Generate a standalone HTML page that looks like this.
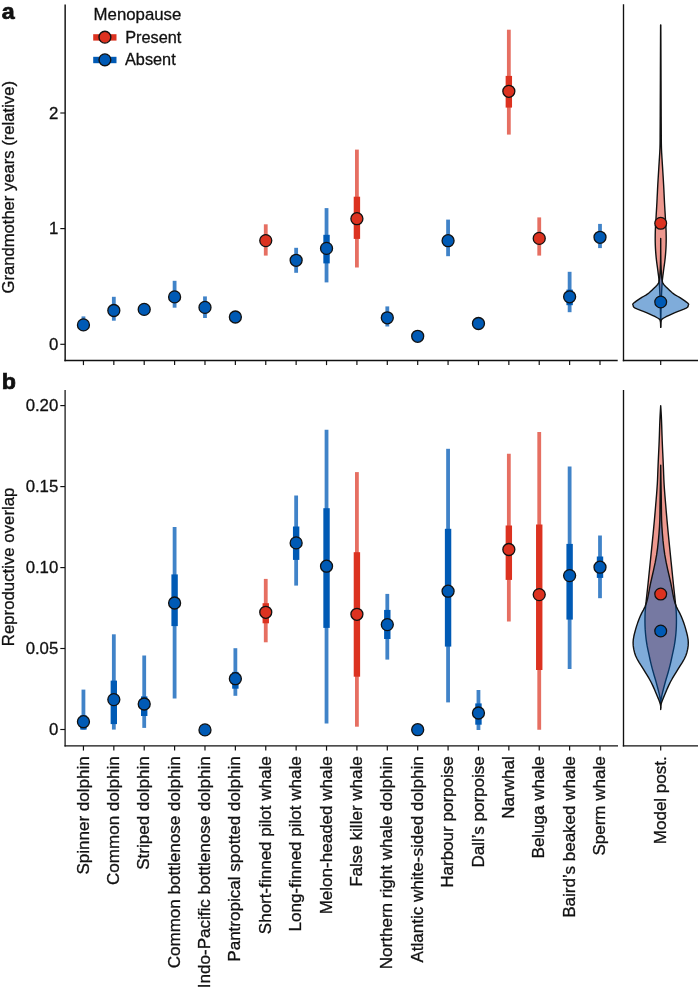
<!DOCTYPE html>
<html><head><meta charset="utf-8"><style>
html,body{margin:0;padding:0;background:#fff;}
svg{display:block;will-change:transform;}
text{font-family:"Liberation Sans",sans-serif;fill:#111;stroke:#111;stroke-width:0.3px;}
</style></head><body>
<svg width="698" height="989" viewBox="0 0 698 989">
<rect width="698" height="989" fill="#fff"/>
<line x1="65.15" x2="65.15" y1="4.4" y2="361.2" stroke="#111" stroke-width="1.45"/>
<line x1="64.4" x2="617.7" y1="360.5" y2="360.5" stroke="#111" stroke-width="1.55"/>
<line x1="623.5" x2="623.5" y1="4.2" y2="361.2" stroke="#111" stroke-width="1.35"/>
<line x1="622.8" x2="698" y1="360.5" y2="360.5" stroke="#111" stroke-width="1.55"/>
<line x1="65.1" x2="65.1" y1="390" y2="746.5" stroke="#111" stroke-width="1.25"/>
<line x1="64.5" x2="618" y1="745.9" y2="745.9" stroke="#111" stroke-width="1.3"/>
<line x1="623.5" x2="623.5" y1="390" y2="746.5" stroke="#111" stroke-width="1.35"/>
<line x1="622.8" x2="698" y1="745.9" y2="745.9" stroke="#111" stroke-width="1.3"/>
<line x1="60.3" x2="65" y1="344.3" y2="344.3" stroke="#111" stroke-width="1.15"/>
<text transform="translate(58.3,349.90000000000003) scale(1.0,1.0)" text-anchor="end" font-size="16.8" font-weight="normal">0</text>
<line x1="60.3" x2="65" y1="228.6" y2="228.6" stroke="#111" stroke-width="1.15"/>
<text transform="translate(58.3,234.2) scale(1.0,1.0)" text-anchor="end" font-size="16.8" font-weight="normal">1</text>
<line x1="60.3" x2="65" y1="113.0" y2="113.0" stroke="#111" stroke-width="1.15"/>
<text transform="translate(58.3,118.6) scale(1.0,1.0)" text-anchor="end" font-size="16.8" font-weight="normal">2</text>
<line x1="60.3" x2="65" y1="729.5" y2="729.5" stroke="#111" stroke-width="1.15"/>
<text transform="translate(58.3,735.1) scale(1.0,1.0)" text-anchor="end" font-size="16.8" font-weight="normal">0</text>
<line x1="60.3" x2="65" y1="648.5" y2="648.5" stroke="#111" stroke-width="1.15"/>
<text transform="translate(58.3,654.1) scale(1.0,1.0)" text-anchor="end" font-size="16.8" font-weight="normal">0.05</text>
<line x1="60.3" x2="65" y1="567.6" y2="567.6" stroke="#111" stroke-width="1.15"/>
<text transform="translate(58.3,573.2) scale(1.0,1.0)" text-anchor="end" font-size="16.8" font-weight="normal">0.10</text>
<line x1="60.3" x2="65" y1="486.6" y2="486.6" stroke="#111" stroke-width="1.15"/>
<text transform="translate(58.3,492.20000000000005) scale(1.0,1.0)" text-anchor="end" font-size="16.8" font-weight="normal">0.15</text>
<line x1="60.3" x2="65" y1="405.6" y2="405.6" stroke="#111" stroke-width="1.15"/>
<text transform="translate(58.3,411.20000000000005) scale(1.0,1.0)" text-anchor="end" font-size="16.8" font-weight="normal">0.20</text>
<line x1="83.44" x2="83.44" y1="360.5" y2="365.1" stroke="#111" stroke-width="1.2"/>
<line x1="83.44" x2="83.44" y1="745.9" y2="750.6" stroke="#111" stroke-width="1.2"/>
<text transform="translate(88.53999999999999,756.2) rotate(-90) scale(1.015,1)" text-anchor="end" font-size="16.8">Spinner dolphin</text>
<line x1="113.83" x2="113.83" y1="360.5" y2="365.1" stroke="#111" stroke-width="1.2"/>
<line x1="113.83" x2="113.83" y1="745.9" y2="750.6" stroke="#111" stroke-width="1.2"/>
<text transform="translate(118.92599999999999,756.2) rotate(-90) scale(1.015,1)" text-anchor="end" font-size="16.8">Common dolphin</text>
<line x1="144.21" x2="144.21" y1="360.5" y2="365.1" stroke="#111" stroke-width="1.2"/>
<line x1="144.21" x2="144.21" y1="745.9" y2="750.6" stroke="#111" stroke-width="1.2"/>
<text transform="translate(149.31199999999998,756.2) rotate(-90) scale(1.015,1)" text-anchor="end" font-size="16.8">Striped dolphin</text>
<line x1="174.60" x2="174.60" y1="360.5" y2="365.1" stroke="#111" stroke-width="1.2"/>
<line x1="174.60" x2="174.60" y1="745.9" y2="750.6" stroke="#111" stroke-width="1.2"/>
<text transform="translate(179.698,756.2) rotate(-90) scale(1.015,1)" text-anchor="end" font-size="16.8">Common bottlenose dolphin</text>
<line x1="204.98" x2="204.98" y1="360.5" y2="365.1" stroke="#111" stroke-width="1.2"/>
<line x1="204.98" x2="204.98" y1="745.9" y2="750.6" stroke="#111" stroke-width="1.2"/>
<text transform="translate(210.08399999999997,756.2) rotate(-90) scale(1.015,1)" text-anchor="end" font-size="16.8">Indo-Pacific bottlenose dolphin</text>
<line x1="235.37" x2="235.37" y1="360.5" y2="365.1" stroke="#111" stroke-width="1.2"/>
<line x1="235.37" x2="235.37" y1="745.9" y2="750.6" stroke="#111" stroke-width="1.2"/>
<text transform="translate(240.47,756.2) rotate(-90) scale(1.015,1)" text-anchor="end" font-size="16.8">Pantropical spotted dolphin</text>
<line x1="265.76" x2="265.76" y1="360.5" y2="365.1" stroke="#111" stroke-width="1.2"/>
<line x1="265.76" x2="265.76" y1="745.9" y2="750.6" stroke="#111" stroke-width="1.2"/>
<text transform="translate(270.856,756.2) rotate(-90) scale(1.015,1)" text-anchor="end" font-size="16.8">Short-finned pilot whale</text>
<line x1="296.14" x2="296.14" y1="360.5" y2="365.1" stroke="#111" stroke-width="1.2"/>
<line x1="296.14" x2="296.14" y1="745.9" y2="750.6" stroke="#111" stroke-width="1.2"/>
<text transform="translate(301.242,756.2) rotate(-90) scale(1.015,1)" text-anchor="end" font-size="16.8">Long-finned pilot whale</text>
<line x1="326.53" x2="326.53" y1="360.5" y2="365.1" stroke="#111" stroke-width="1.2"/>
<line x1="326.53" x2="326.53" y1="745.9" y2="750.6" stroke="#111" stroke-width="1.2"/>
<text transform="translate(331.62800000000004,756.2) rotate(-90) scale(1.015,1)" text-anchor="end" font-size="16.8">Melon-headed whale</text>
<line x1="356.91" x2="356.91" y1="360.5" y2="365.1" stroke="#111" stroke-width="1.2"/>
<line x1="356.91" x2="356.91" y1="745.9" y2="750.6" stroke="#111" stroke-width="1.2"/>
<text transform="translate(362.014,756.2) rotate(-90) scale(1.015,1)" text-anchor="end" font-size="16.8">False killer whale</text>
<line x1="387.30" x2="387.30" y1="360.5" y2="365.1" stroke="#111" stroke-width="1.2"/>
<line x1="387.30" x2="387.30" y1="745.9" y2="750.6" stroke="#111" stroke-width="1.2"/>
<text transform="translate(392.40000000000003,756.2) rotate(-90) scale(1.015,1)" text-anchor="end" font-size="16.8">Northern right whale dolphin</text>
<line x1="417.69" x2="417.69" y1="360.5" y2="365.1" stroke="#111" stroke-width="1.2"/>
<line x1="417.69" x2="417.69" y1="745.9" y2="750.6" stroke="#111" stroke-width="1.2"/>
<text transform="translate(422.786,756.2) rotate(-90) scale(1.015,1)" text-anchor="end" font-size="16.8">Atlantic white-sided dolphin</text>
<line x1="448.07" x2="448.07" y1="360.5" y2="365.1" stroke="#111" stroke-width="1.2"/>
<line x1="448.07" x2="448.07" y1="745.9" y2="750.6" stroke="#111" stroke-width="1.2"/>
<text transform="translate(453.172,756.2) rotate(-90) scale(1.015,1)" text-anchor="end" font-size="16.8">Harbour porpoise</text>
<line x1="478.46" x2="478.46" y1="360.5" y2="365.1" stroke="#111" stroke-width="1.2"/>
<line x1="478.46" x2="478.46" y1="745.9" y2="750.6" stroke="#111" stroke-width="1.2"/>
<text transform="translate(483.558,756.2) rotate(-90) scale(1.015,1)" text-anchor="end" font-size="16.8">Dall’s porpoise</text>
<line x1="508.84" x2="508.84" y1="360.5" y2="365.1" stroke="#111" stroke-width="1.2"/>
<line x1="508.84" x2="508.84" y1="745.9" y2="750.6" stroke="#111" stroke-width="1.2"/>
<text transform="translate(513.944,756.2) rotate(-90) scale(1.015,1)" text-anchor="end" font-size="16.8">Narwhal</text>
<line x1="539.23" x2="539.23" y1="360.5" y2="365.1" stroke="#111" stroke-width="1.2"/>
<line x1="539.23" x2="539.23" y1="745.9" y2="750.6" stroke="#111" stroke-width="1.2"/>
<text transform="translate(544.33,756.2) rotate(-90) scale(1.015,1)" text-anchor="end" font-size="16.8">Beluga whale</text>
<line x1="569.62" x2="569.62" y1="360.5" y2="365.1" stroke="#111" stroke-width="1.2"/>
<line x1="569.62" x2="569.62" y1="745.9" y2="750.6" stroke="#111" stroke-width="1.2"/>
<text transform="translate(574.716,756.2) rotate(-90) scale(1.015,1)" text-anchor="end" font-size="16.8">Baird’s beaked whale</text>
<line x1="600.00" x2="600.00" y1="360.5" y2="365.1" stroke="#111" stroke-width="1.2"/>
<line x1="600.00" x2="600.00" y1="745.9" y2="750.6" stroke="#111" stroke-width="1.2"/>
<text transform="translate(605.102,756.2) rotate(-90) scale(1.015,1)" text-anchor="end" font-size="16.8">Sperm whale</text>
<line x1="660.7" x2="660.7" y1="360.5" y2="365.1" stroke="#111" stroke-width="1.2"/>
<line x1="660.7" x2="660.7" y1="745.9" y2="750.6" stroke="#111" stroke-width="1.2"/>
<text transform="translate(665.6,756.2) rotate(-90) scale(1.015,1)" text-anchor="end" font-size="16.8">Model post.</text>
<text transform="translate(13.6,187.3) rotate(-90) scale(0.99,1)" text-anchor="middle" font-size="16.8">Grandmother years (relative)</text>
<text transform="translate(13.6,566.9) rotate(-90) scale(1.0,1)" text-anchor="middle" font-size="16.8">Reproductive overlap</text>
<text style="stroke-width:0.7px" transform="translate(1.8,18.9) scale(1.08,1.0)" text-anchor="start" font-size="21.5" font-weight="bold">a</text>
<text style="stroke-width:0.7px" transform="translate(1.8,388.9) scale(1.08,1.0)" text-anchor="start" font-size="21.5" font-weight="bold">b</text>
<text transform="translate(93.6,19.6) scale(1.0,0.96)" text-anchor="start" font-size="16.8" font-weight="normal">Menopause</text>
<line x1="93.2" x2="116.5" y1="37.4" y2="37.4" stroke="#DC3220" stroke-width="6.4"/>
<circle cx="104.9" cy="37.2" r="5.9" fill="#DC3220" stroke="#111" stroke-width="1.4"/>
<text transform="translate(125.2,43.2) scale(1.0,0.98)" text-anchor="start" font-size="16.3" font-weight="normal">Present</text>
<line x1="93.2" x2="116.5" y1="60.0" y2="60.0" stroke="#005AB5" stroke-width="6.4"/>
<circle cx="104.9" cy="59.8" r="5.9" fill="#005AB5" stroke="#111" stroke-width="1.4"/>
<text transform="translate(125.0,65.4) scale(1.0,0.98)" text-anchor="start" font-size="16.3" font-weight="normal">Absent</text>
<line x1="83.44" x2="83.44" y1="316.4" y2="330.5" stroke="rgba(0,90,181,0.75)" stroke-width="3.8"/>
<line x1="113.83" x2="113.83" y1="296.8" y2="320.7" stroke="rgba(0,90,181,0.75)" stroke-width="3.8"/>
<line x1="174.60" x2="174.60" y1="280.8" y2="307.7" stroke="rgba(0,90,181,0.75)" stroke-width="3.8"/>
<line x1="204.98" x2="204.98" y1="296.4" y2="318.0" stroke="rgba(0,90,181,0.75)" stroke-width="3.8"/>
<line x1="265.76" x2="265.76" y1="224.3" y2="255.6" stroke="rgba(220,50,32,0.7)" stroke-width="3.8"/>
<line x1="296.14" x2="296.14" y1="247.8" y2="272.8" stroke="rgba(0,90,181,0.75)" stroke-width="3.8"/>
<line x1="326.53" x2="326.53" y1="208.1" y2="282.4" stroke="rgba(0,90,181,0.75)" stroke-width="3.8"/>
<line x1="356.91" x2="356.91" y1="149.6" y2="267.5" stroke="rgba(220,50,32,0.7)" stroke-width="3.8"/>
<line x1="387.30" x2="387.30" y1="306.4" y2="326.5" stroke="rgba(0,90,181,0.75)" stroke-width="3.8"/>
<line x1="448.07" x2="448.07" y1="219.6" y2="256.2" stroke="rgba(0,90,181,0.75)" stroke-width="3.8"/>
<line x1="508.84" x2="508.84" y1="29.7" y2="134.6" stroke="rgba(220,50,32,0.7)" stroke-width="3.8"/>
<line x1="539.23" x2="539.23" y1="217.4" y2="255.6" stroke="rgba(220,50,32,0.7)" stroke-width="3.8"/>
<line x1="569.62" x2="569.62" y1="271.8" y2="312.2" stroke="rgba(0,90,181,0.75)" stroke-width="3.8"/>
<line x1="600.00" x2="600.00" y1="223.9" y2="248.1" stroke="rgba(0,90,181,0.75)" stroke-width="3.8"/>
<line x1="326.53" x2="326.53" y1="234.8" y2="263.4" stroke="#005AB5" stroke-width="6.4"/>
<line x1="356.91" x2="356.91" y1="196.7" y2="238.9" stroke="#DC3220" stroke-width="6.4"/>
<line x1="508.84" x2="508.84" y1="75.9" y2="107.6" stroke="#DC3220" stroke-width="6.4"/>
<line x1="569.62" x2="569.62" y1="289.6" y2="305.2" stroke="#005AB5" stroke-width="6.4"/>
<circle cx="83.44" cy="324.9" r="6.0" fill="#005AB5" stroke="#111" stroke-width="1.3"/>
<circle cx="113.83" cy="310.5" r="6.0" fill="#005AB5" stroke="#111" stroke-width="1.3"/>
<circle cx="144.21" cy="309.4" r="6.0" fill="#005AB5" stroke="#111" stroke-width="1.3"/>
<circle cx="174.60" cy="296.9" r="6.0" fill="#005AB5" stroke="#111" stroke-width="1.3"/>
<circle cx="204.98" cy="307.4" r="6.0" fill="#005AB5" stroke="#111" stroke-width="1.3"/>
<circle cx="235.37" cy="317.0" r="6.0" fill="#005AB5" stroke="#111" stroke-width="1.3"/>
<circle cx="265.76" cy="240.6" r="6.0" fill="#DC3220" stroke="#111" stroke-width="1.3"/>
<circle cx="296.14" cy="260.3" r="6.0" fill="#005AB5" stroke="#111" stroke-width="1.3"/>
<circle cx="326.53" cy="248.4" r="6.0" fill="#005AB5" stroke="#111" stroke-width="1.3"/>
<circle cx="356.91" cy="218.7" r="6.0" fill="#DC3220" stroke="#111" stroke-width="1.3"/>
<circle cx="387.30" cy="317.8" r="6.0" fill="#005AB5" stroke="#111" stroke-width="1.3"/>
<circle cx="417.69" cy="336.3" r="6.0" fill="#005AB5" stroke="#111" stroke-width="1.3"/>
<circle cx="448.07" cy="240.7" r="6.0" fill="#005AB5" stroke="#111" stroke-width="1.3"/>
<circle cx="478.46" cy="323.5" r="6.0" fill="#005AB5" stroke="#111" stroke-width="1.3"/>
<circle cx="508.84" cy="91.3" r="6.0" fill="#DC3220" stroke="#111" stroke-width="1.3"/>
<circle cx="539.23" cy="238.4" r="6.0" fill="#DC3220" stroke="#111" stroke-width="1.3"/>
<circle cx="569.62" cy="296.8" r="6.0" fill="#005AB5" stroke="#111" stroke-width="1.3"/>
<circle cx="600.00" cy="237.3" r="6.0" fill="#005AB5" stroke="#111" stroke-width="1.3"/>
<line x1="83.44" x2="83.44" y1="689.6" y2="729.6" stroke="rgba(0,90,181,0.75)" stroke-width="3.8"/>
<line x1="113.83" x2="113.83" y1="634.3" y2="729.6" stroke="rgba(0,90,181,0.75)" stroke-width="3.8"/>
<line x1="144.21" x2="144.21" y1="655.5" y2="727.9" stroke="rgba(0,90,181,0.75)" stroke-width="3.8"/>
<line x1="174.60" x2="174.60" y1="527.1" y2="698.5" stroke="rgba(0,90,181,0.75)" stroke-width="3.8"/>
<line x1="235.37" x2="235.37" y1="648.1999999999999" y2="695.8" stroke="rgba(0,90,181,0.75)" stroke-width="3.8"/>
<line x1="265.76" x2="265.76" y1="578.9" y2="642.3" stroke="rgba(220,50,32,0.7)" stroke-width="3.8"/>
<line x1="296.14" x2="296.14" y1="495.5" y2="585.6" stroke="rgba(0,90,181,0.75)" stroke-width="3.8"/>
<line x1="326.53" x2="326.53" y1="429.7" y2="723.4" stroke="rgba(0,90,181,0.75)" stroke-width="3.8"/>
<line x1="356.91" x2="356.91" y1="472.09999999999997" y2="726.6999999999999" stroke="rgba(220,50,32,0.7)" stroke-width="3.8"/>
<line x1="387.30" x2="387.30" y1="593.9" y2="659.6" stroke="rgba(0,90,181,0.75)" stroke-width="3.8"/>
<line x1="448.07" x2="448.07" y1="448.79999999999995" y2="702.4" stroke="rgba(0,90,181,0.75)" stroke-width="3.8"/>
<line x1="478.46" x2="478.46" y1="690.0" y2="730.0" stroke="rgba(0,90,181,0.75)" stroke-width="3.8"/>
<line x1="508.84" x2="508.84" y1="453.79999999999995" y2="621.6" stroke="rgba(220,50,32,0.7)" stroke-width="3.8"/>
<line x1="539.23" x2="539.23" y1="432.09999999999997" y2="729.6999999999999" stroke="rgba(220,50,32,0.7)" stroke-width="3.8"/>
<line x1="569.62" x2="569.62" y1="466.4" y2="669.0" stroke="rgba(0,90,181,0.75)" stroke-width="3.8"/>
<line x1="600.00" x2="600.00" y1="535.5" y2="598.1999999999999" stroke="rgba(0,90,181,0.75)" stroke-width="3.8"/>
<line x1="83.44" x2="83.44" y1="715.4" y2="729.6" stroke="#005AB5" stroke-width="6.4"/>
<line x1="113.83" x2="113.83" y1="680.6" y2="724.1" stroke="#005AB5" stroke-width="6.4"/>
<line x1="144.21" x2="144.21" y1="696.4" y2="716.0" stroke="#005AB5" stroke-width="6.4"/>
<line x1="174.60" x2="174.60" y1="574.4" y2="626.1" stroke="#005AB5" stroke-width="6.4"/>
<line x1="235.37" x2="235.37" y1="671.9" y2="688.6999999999999" stroke="#005AB5" stroke-width="6.4"/>
<line x1="265.76" x2="265.76" y1="603.1999999999999" y2="623.3" stroke="#DC3220" stroke-width="6.4"/>
<line x1="296.14" x2="296.14" y1="526.5" y2="559.9" stroke="#005AB5" stroke-width="6.4"/>
<line x1="326.53" x2="326.53" y1="508.2" y2="627.9" stroke="#005AB5" stroke-width="6.4"/>
<line x1="356.91" x2="356.91" y1="552.1999999999999" y2="676.6999999999999" stroke="#DC3220" stroke-width="6.4"/>
<line x1="387.30" x2="387.30" y1="609.9" y2="639.0" stroke="#005AB5" stroke-width="6.4"/>
<line x1="448.07" x2="448.07" y1="528.8" y2="646.6" stroke="#005AB5" stroke-width="6.4"/>
<line x1="478.46" x2="478.46" y1="703.4" y2="724.6999999999999" stroke="#005AB5" stroke-width="6.4"/>
<line x1="508.84" x2="508.84" y1="525.5" y2="579.9" stroke="#DC3220" stroke-width="6.4"/>
<line x1="539.23" x2="539.23" y1="524.5" y2="670.0" stroke="#DC3220" stroke-width="6.4"/>
<line x1="569.62" x2="569.62" y1="543.9" y2="619.6" stroke="#005AB5" stroke-width="6.4"/>
<line x1="600.00" x2="600.00" y1="556.5" y2="577.9" stroke="#005AB5" stroke-width="6.4"/>
<circle cx="83.44" cy="721.6999999999999" r="6.0" fill="#005AB5" stroke="#111" stroke-width="1.3"/>
<circle cx="113.83" cy="699.6" r="6.0" fill="#005AB5" stroke="#111" stroke-width="1.3"/>
<circle cx="144.21" cy="704.0" r="6.0" fill="#005AB5" stroke="#111" stroke-width="1.3"/>
<circle cx="174.60" cy="603.0" r="6.0" fill="#005AB5" stroke="#111" stroke-width="1.3"/>
<circle cx="204.98" cy="729.9" r="6.0" fill="#005AB5" stroke="#111" stroke-width="1.3"/>
<circle cx="235.37" cy="678.6999999999999" r="6.0" fill="#005AB5" stroke="#111" stroke-width="1.3"/>
<circle cx="265.76" cy="612.3" r="6.0" fill="#DC3220" stroke="#111" stroke-width="1.3"/>
<circle cx="296.14" cy="542.9" r="6.0" fill="#005AB5" stroke="#111" stroke-width="1.3"/>
<circle cx="326.53" cy="566.1999999999999" r="6.0" fill="#005AB5" stroke="#111" stroke-width="1.3"/>
<circle cx="356.91" cy="614.3" r="6.0" fill="#DC3220" stroke="#111" stroke-width="1.3"/>
<circle cx="387.30" cy="624.6" r="6.0" fill="#005AB5" stroke="#111" stroke-width="1.3"/>
<circle cx="417.69" cy="729.6999999999999" r="6.0" fill="#005AB5" stroke="#111" stroke-width="1.3"/>
<circle cx="448.07" cy="591.1999999999999" r="6.0" fill="#005AB5" stroke="#111" stroke-width="1.3"/>
<circle cx="478.46" cy="713.0" r="6.0" fill="#005AB5" stroke="#111" stroke-width="1.3"/>
<circle cx="508.84" cy="549.5" r="6.0" fill="#DC3220" stroke="#111" stroke-width="1.3"/>
<circle cx="539.23" cy="594.6" r="6.0" fill="#DC3220" stroke="#111" stroke-width="1.3"/>
<circle cx="569.62" cy="575.6" r="6.0" fill="#005AB5" stroke="#111" stroke-width="1.3"/>
<circle cx="600.00" cy="567.1999999999999" r="6.0" fill="#005AB5" stroke="#111" stroke-width="1.3"/>
<path d="M660.60,25.00 L660.57,31.17 L660.53,40.00 L660.49,50.08 L660.45,60.00 L660.41,69.88 L660.38,80.31 L660.34,90.59 L660.30,100.00 L660.26,108.48 L660.23,116.36 L660.19,123.56 L660.15,130.00 L660.12,135.38 L660.11,139.84 L660.06,143.93 L659.95,148.20 L659.75,152.75 L659.48,157.31 L659.19,161.86 L658.90,166.40 L658.62,170.93 L658.34,175.45 L658.06,179.97 L657.80,184.50 L657.56,189.11 L657.34,193.76 L657.12,198.34 L656.90,202.70 L656.67,206.81 L656.44,210.75 L656.21,214.54 L656.00,218.20 L655.79,221.70 L655.59,225.05 L655.42,228.32 L655.30,231.60 L655.23,234.89 L655.20,238.16 L655.22,241.42 L655.30,244.70 L655.44,248.00 L655.64,251.30 L655.90,254.60 L656.20,257.90 L656.58,261.26 L657.03,264.66 L657.49,267.96 L657.90,271.00 L658.24,273.58 L658.56,275.83 L658.84,278.12 L659.10,280.80 L659.34,284.02 L659.54,287.58 L659.73,291.29 L659.90,295.00 L660.05,298.65 L660.18,302.32 L660.30,306.09 L660.40,310.00 L660.50,314.51 L660.58,319.44 L660.65,323.90 L660.70,327.00 L660.70,327.00 L660.75,323.90 L660.82,319.44 L660.90,314.51 L661.00,310.00 L661.10,306.09 L661.22,302.32 L661.35,298.65 L661.50,295.00 L661.67,291.29 L661.86,287.58 L662.06,284.02 L662.30,280.80 L662.56,278.12 L662.84,275.83 L663.16,273.58 L663.50,271.00 L663.91,267.96 L664.37,264.66 L664.82,261.26 L665.20,257.90 L665.50,254.60 L665.76,251.30 L665.96,248.00 L666.10,244.70 L666.18,241.42 L666.20,238.16 L666.17,234.89 L666.10,231.60 L665.98,228.32 L665.81,225.05 L665.61,221.70 L665.40,218.20 L665.19,214.54 L664.96,210.75 L664.73,206.81 L664.50,202.70 L664.28,198.34 L664.06,193.76 L663.84,189.11 L663.60,184.50 L663.34,179.97 L663.06,175.45 L662.78,170.93 L662.50,166.40 L662.21,161.86 L661.92,157.31 L661.65,152.75 L661.45,148.20 L661.34,143.93 L661.29,139.84 L661.28,135.38 L661.25,130.00 L661.21,123.56 L661.17,116.36 L661.14,108.48 L661.10,100.00 L661.06,90.59 L661.03,80.31 L660.99,69.88 L660.95,60.00 L660.91,50.08 L660.87,40.00 L660.83,31.17 L660.80,25.00 Z" fill="rgba(220,50,32,0.5)" stroke="#111" stroke-width="1.4" stroke-linejoin="round"/>
<path d="M660.70,238.50 L660.68,242.52 L660.67,248.31 L660.63,254.58 L660.55,260.00 L660.43,264.42 L660.27,268.47 L660.08,272.04 L659.90,275.00 L659.72,277.19 L659.55,278.72 L659.35,279.89 L659.10,281.00 L658.87,282.00 L658.65,282.78 L658.30,283.51 L657.70,284.40 L656.75,285.50 L655.54,286.72 L654.21,287.97 L652.90,289.20 L651.69,290.38 L650.49,291.56 L649.19,292.73 L647.70,293.90 L645.90,295.07 L643.88,296.25 L641.81,297.43 L639.90,298.60 L638.06,299.84 L636.24,301.13 L634.65,302.32 L633.50,303.30 L632.92,303.95 L632.77,304.36 L632.88,304.72 L633.10,305.20 L633.22,305.81 L633.39,306.48 L633.93,307.23 L635.20,308.10 L637.52,309.15 L640.62,310.34 L643.97,311.58 L647.00,312.80 L649.72,314.02 L652.37,315.26 L654.76,316.45 L656.70,317.50 L658.08,318.26 L659.03,318.81 L659.68,319.43 L660.20,320.40 L660.55,322.03 L660.67,324.08 L660.68,326.05 L660.70,327.40 L660.70,327.40 L660.72,326.05 L660.73,324.08 L660.85,322.03 L661.20,320.40 L661.72,319.43 L662.38,318.81 L663.32,318.26 L664.70,317.50 L666.64,316.45 L669.03,315.26 L671.68,314.02 L674.40,312.80 L677.43,311.58 L680.78,310.34 L683.88,309.15 L686.20,308.10 L687.47,307.23 L688.01,306.48 L688.18,305.81 L688.30,305.20 L688.52,304.72 L688.63,304.36 L688.48,303.95 L687.90,303.30 L686.75,302.32 L685.16,301.13 L683.34,299.84 L681.50,298.60 L679.59,297.43 L677.53,296.25 L675.50,295.07 L673.70,293.90 L672.21,292.73 L670.91,291.56 L669.71,290.38 L668.50,289.20 L667.19,287.97 L665.86,286.72 L664.65,285.50 L663.70,284.40 L663.10,283.51 L662.75,282.78 L662.53,282.00 L662.30,281.00 L662.05,279.89 L661.85,278.72 L661.68,277.19 L661.50,275.00 L661.32,272.04 L661.13,268.47 L660.97,264.42 L660.85,260.00 L660.77,254.58 L660.73,248.31 L660.72,242.52 L660.70,238.50 Z" fill="rgba(0,90,181,0.5)" stroke="#111" stroke-width="1.4" stroke-linejoin="round"/>
<circle cx="660.7" cy="223.3" r="5.9" fill="#DC3220" stroke="#111" stroke-width="1.25"/>
<circle cx="660.7" cy="302.0" r="5.9" fill="#005AB5" stroke="#111" stroke-width="1.25"/>
<path d="M660.70,405.70 L660.55,408.12 L660.34,411.57 L660.11,415.65 L659.90,420.00 L659.73,424.60 L659.57,429.61 L659.40,434.95 L659.20,440.50 L658.95,446.47 L658.66,452.83 L658.36,459.15 L658.10,465.00 L657.90,470.14 L657.73,474.83 L657.55,479.41 L657.30,484.20 L656.96,489.27 L656.57,494.45 L656.14,499.71 L655.70,505.00 L655.27,510.19 L654.83,515.33 L654.35,520.71 L653.80,526.60 L653.17,533.20 L652.46,540.33 L651.73,547.67 L651.00,554.90 L650.27,562.11 L649.53,569.41 L648.79,576.53 L648.10,583.20 L647.43,589.53 L646.76,595.61 L646.17,601.13 L645.70,605.80 L645.38,609.21 L645.19,611.64 L645.07,613.78 L645.00,616.30 L644.96,619.39 L644.97,622.68 L645.04,626.06 L645.20,629.40 L645.44,632.70 L645.75,636.00 L646.14,639.30 L646.60,642.60 L647.15,645.88 L647.79,649.15 L648.49,652.42 L649.20,655.70 L649.92,659.00 L650.68,662.30 L651.46,665.60 L652.30,668.90 L653.21,672.18 L654.18,675.45 L655.16,678.72 L656.10,682.00 L657.03,685.45 L657.98,689.01 L658.83,692.37 L659.50,695.20 L659.94,697.30 L660.20,698.88 L660.36,700.25 L660.50,701.70 L660.61,703.44 L660.66,705.26 L660.68,706.87 L660.70,708.00 L660.70,708.00 L660.72,706.87 L660.74,705.26 L660.79,703.44 L660.90,701.70 L661.04,700.25 L661.20,698.88 L661.46,697.30 L661.90,695.20 L662.57,692.37 L663.43,689.01 L664.37,685.45 L665.30,682.00 L666.24,678.72 L667.22,675.45 L668.19,672.18 L669.10,668.90 L669.94,665.60 L670.73,662.30 L671.48,659.00 L672.20,655.70 L672.91,652.42 L673.61,649.15 L674.25,645.88 L674.80,642.60 L675.26,639.30 L675.65,636.00 L675.96,632.70 L676.20,629.40 L676.36,626.06 L676.43,622.68 L676.44,619.39 L676.40,616.30 L676.33,613.78 L676.21,611.64 L676.02,609.21 L675.70,605.80 L675.23,601.13 L674.64,595.61 L673.98,589.53 L673.30,583.20 L672.61,576.53 L671.88,569.41 L671.13,562.11 L670.40,554.90 L669.67,547.67 L668.94,540.33 L668.23,533.20 L667.60,526.60 L667.05,520.71 L666.58,515.33 L666.13,510.19 L665.70,505.00 L665.26,499.71 L664.83,494.45 L664.44,489.27 L664.10,484.20 L663.85,479.41 L663.67,474.83 L663.50,470.14 L663.30,465.00 L663.04,459.15 L662.74,452.83 L662.45,446.47 L662.20,440.50 L662.00,434.95 L661.83,429.61 L661.67,424.60 L661.50,420.00 L661.29,415.65 L661.06,411.57 L660.85,408.12 L660.70,405.70 Z" fill="rgba(220,50,32,0.5)" stroke="#111" stroke-width="1.4" stroke-linejoin="round"/>
<path d="M660.70,465.10 L660.59,471.57 L660.44,480.89 L660.26,491.04 L660.10,500.00 L660.00,507.19 L659.94,513.71 L659.81,520.03 L659.50,526.60 L659.01,533.56 L658.39,540.64 L657.60,547.79 L656.60,554.90 L655.28,562.17 L653.68,569.58 L652.05,576.72 L650.60,583.20 L649.47,588.92 L648.51,594.09 L647.55,598.79 L646.40,603.10 L644.95,606.87 L643.33,610.12 L641.68,613.16 L640.20,616.30 L638.89,619.58 L637.67,622.85 L636.56,626.12 L635.60,629.40 L634.71,632.70 L633.91,636.00 L633.32,639.30 L633.10,642.60 L633.25,645.88 L633.72,649.15 L634.50,652.42 L635.60,655.70 L637.14,659.00 L639.07,662.30 L641.17,665.60 L643.20,668.90 L645.18,672.18 L647.21,675.45 L649.18,678.72 L651.00,682.00 L652.66,685.39 L654.22,688.84 L655.64,692.18 L656.90,695.20 L658.02,697.88 L659.00,700.30 L659.81,702.48 L660.40,704.40 L660.70,706.10 L660.70,707.57 L660.70,708.76 L660.70,709.60 L660.70,709.60 L660.70,708.76 L660.70,707.57 L660.70,706.10 L661.00,704.40 L661.59,702.48 L662.40,700.30 L663.38,697.88 L664.50,695.20 L665.76,692.18 L667.18,688.84 L668.74,685.39 L670.40,682.00 L672.22,678.72 L674.19,675.45 L676.22,672.18 L678.20,668.90 L680.23,665.60 L682.33,662.30 L684.26,659.00 L685.80,655.70 L686.90,652.42 L687.68,649.15 L688.15,645.88 L688.30,642.60 L688.08,639.30 L687.49,636.00 L686.69,632.70 L685.80,629.40 L684.84,626.12 L683.73,622.85 L682.51,619.58 L681.20,616.30 L679.72,613.16 L678.08,610.12 L676.45,606.87 L675.00,603.10 L673.85,598.79 L672.89,594.09 L671.93,588.92 L670.80,583.20 L669.35,576.72 L667.72,569.58 L666.12,562.17 L664.80,554.90 L663.80,547.79 L663.01,540.64 L662.39,533.56 L661.90,526.60 L661.59,520.03 L661.46,513.71 L661.40,507.19 L661.30,500.00 L661.14,491.04 L660.96,480.89 L660.81,471.57 L660.70,465.10 Z" fill="rgba(0,90,181,0.5)" stroke="#111" stroke-width="1.4" stroke-linejoin="round"/>
<circle cx="660.7" cy="594.1" r="5.9" fill="#DC3220" stroke="#111" stroke-width="1.25"/>
<circle cx="660.7" cy="631.0" r="5.9" fill="#005AB5" stroke="#111" stroke-width="1.25"/>
</svg>
</body></html>
